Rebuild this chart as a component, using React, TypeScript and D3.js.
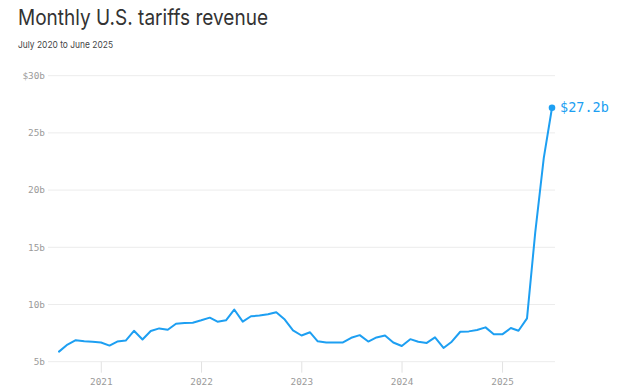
import { line, scaleLinear, scaleTime, timeMonth, curveLinear } from 'd3';

// Monthly customs duties, $ billions, July 2020 through June 2025
const revenue = [
  5.88, 6.5, 6.88, 6.79, 6.74, 6.68,
  6.41, 6.76, 6.85, 7.7, 6.94, 7.68, 7.91, 7.79, 8.32, 8.38, 8.41, 8.62,
  8.85, 8.5, 8.62, 9.56, 8.5, 8.97, 9.03, 9.15, 9.33, 8.68, 7.74, 7.29,
  7.57, 6.78, 6.68, 6.68, 6.68, 7.09, 7.32, 6.76, 7.12, 7.29, 6.68, 6.37,
  6.97, 6.74, 6.64, 7.13, 6.2, 6.75, 7.62, 7.65, 7.77, 8.0, 7.39, 7.39,
  7.94, 7.71, 8.79, 16.3, 22.8, 27.2,
];
const months = timeMonth.range(new Date(2020, 6, 1), new Date(2025, 6, 1));
const yTicks = [5, 10, 15, 20, 25, 30];
const xTicks = [2021, 2022, 2023, 2024, 2025];

const width = 620;
const height = 390;
const mono = '"DejaVu Sans Mono", "Liberation Mono", monospace';
const blue = '#1d9ff2';

// each month is plotted at its last day
const monthEnd = (d: Date) => new Date(d.getFullYear(), d.getMonth() + 1, 0);

export default function App() {
  const x = scaleTime()
    .domain([new Date(2020, 6, 31), new Date(2025, 5, 30)])
    .range([59, 552]);
  const y = scaleLinear().domain([5, 30]).range([361.7, 75.7]);

  const points = months.map((m, i) => ({ date: monthEnd(m), value: revenue[i] }));
  const path = line<{ date: Date; value: number }>()
    .x(d => x(d.date))
    .y(d => y(d.value))
    .curve(curveLinear)(points);
  const last = points[points.length - 1];

  return (
    <svg
      width={width}
      height={height}
      style={{ position: 'absolute', left: 0, top: 0, background: '#fff' }}
    >
      <text
        x={18}
        y={25}
        fontFamily='Inter, "Noto Sans", sans-serif'
        fontSize={22}
        fill="#333"
        textLength={250}
        lengthAdjust="spacingAndGlyphs"
      >
        Monthly U.S. tariffs revenue
      </text>
      <text
        x={18}
        y={48}
        fontFamily='Inter, "Noto Sans", sans-serif'
        fontSize={9.5}
        fill="#444"
        textLength={95}
        lengthAdjust="spacingAndGlyphs"
      >
        July 2020 to June 2025
      </text>

      {yTicks.map(t => (
        <g key={t}>
          <line x1={48} x2={555} y1={y(t)} y2={y(t)} stroke="#ececec" strokeWidth={1} />
          <text
            x={45}
            y={y(t) + 3.3}
            textAnchor="end"
            fontFamily={mono}
            fontSize={9.4}
            fill="#9a9a9a"
          >
            {t === 30 ? `$${t}b` : `${t}b`}
          </text>
        </g>
      ))}

      {xTicks.map(yr => {
        const px = x(new Date(yr, 0, 1));
        return (
          <g key={yr}>
            <line x1={px} x2={px} y1={y(5)} y2={y(5) + 11} stroke="#e2e2e2" strokeWidth={1} />
            <text
              x={px}
              y={385}
              textAnchor="middle"
              fontFamily={mono}
              fontSize={9.4}
              fill="#9a9a9a"
            >
              {yr}
            </text>
          </g>
        );
      })}

      <path
        d={path ?? ''}
        fill="none"
        stroke={blue}
        strokeWidth={2}
        strokeLinejoin="round"
        strokeLinecap="round"
      />
      <circle cx={x(last.date)} cy={y(last.value)} r={3.3} fill={blue} />
      <text
        x={x(last.date) + 8}
        y={y(last.value) + 4.5}
        fontFamily={mono}
        fontSize={13.5}
        fill={blue}
      >
        ${last.value.toFixed(1)}b
      </text>
    </svg>
  );
}
